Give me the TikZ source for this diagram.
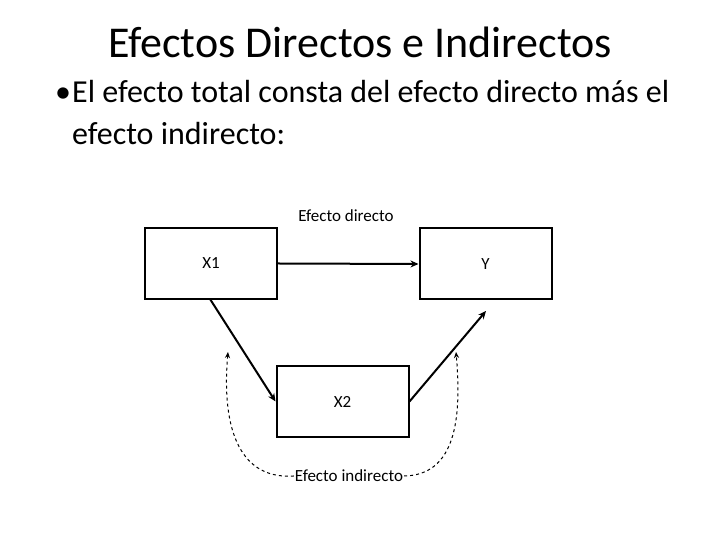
\documentclass[tikz,border=0pt]{standalone}
\usepackage{fontspec}
\setmainfont{Carlito}
\usetikzlibrary{arrows.meta}
\begin{document}
\begin{tikzpicture}[x=1pt,y=1pt,
  box/.style={draw,line width=2pt,minimum width=132pt,minimum height=71pt,inner sep=0pt,font=\fontsize{17}{20}\selectfont},
  lbl/.style={font=\fontsize{17}{20}\selectfont,inner sep=1pt},
  arr/.style={line width=2pt,-{Stealth[length=8pt,width=7pt]}},
  darr/.style={dashed,line width=1pt,-{Stealth[length=6pt,width=5pt]}}]
\useasboundingbox (0,0) rectangle (720,540);
\node (title) at (360,498) {\fontsize{44}{50}\selectfont Efectos Directos e Indirectos};
\node[anchor=base west,font=\fontsize{32}{40}\selectfont,inner sep=0pt] (b) at (55,437) {•};
\node[anchor=base west,font=\fontsize{32}{40}\selectfont,inner sep=0pt] (l1) at (72,437) {El efecto total consta del efecto directo más el};
\node[anchor=base west,font=\fontsize{32}{40}\selectfont,inner sep=0pt] (l2) at (72,395) {efecto indirecto:};
\node[box] (x1) at (211,276.5) {X1};
\node[box] (y) at (485.5,276) {Y};
\node[box] (x2) at (342.5,138.5) {X2};
\node[lbl] (ed) at (346,324) {Efecto directo};
\node[lbl] (ei) at (349,64) {Efecto indirecto};
\draw[arr] (x1.east) -- (y.west);
\draw[arr] (210,241) -- (x2.west);
\draw[arr] (x2.east) -- (486,229);
\draw[darr] (ei.west) .. controls (235,60) and (222,120) .. (228,188);
\draw[darr] (ei.east) .. controls (455,65) and (462,120) .. (456,188);
\end{tikzpicture}
\end{document}
